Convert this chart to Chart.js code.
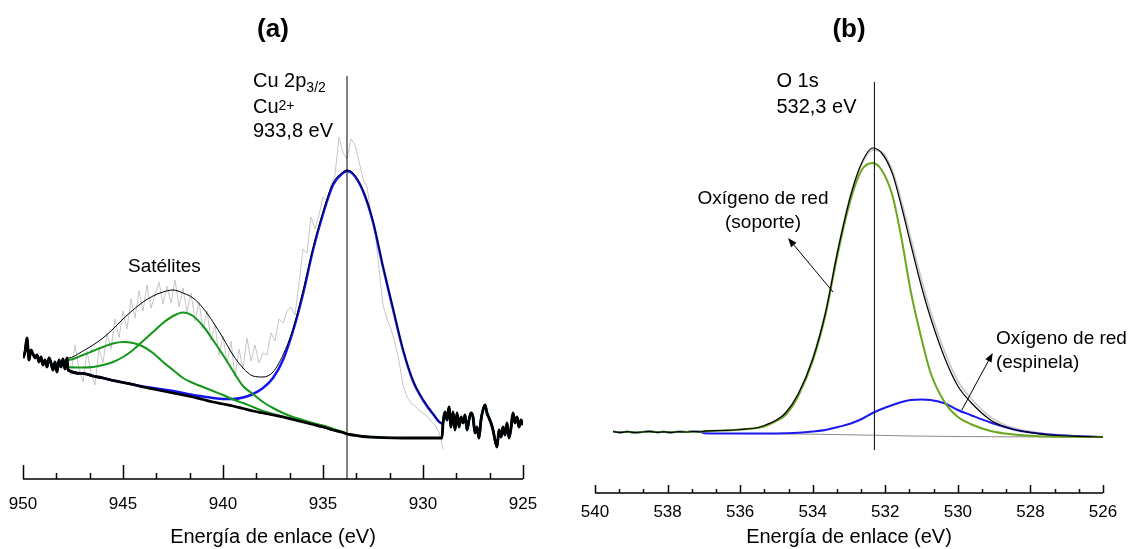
<!DOCTYPE html>
<html lang="es">
<head>
<meta charset="utf-8">
<title>XPS Cu 2p y O 1s</title>
<script src="https://cdn.jsdelivr.net/npm/chart.js@4.4.1/dist/chart.umd.min.js"></script>
<style>
  html, body { margin: 0; padding: 0; background: #fff; }
  #wrap { position: relative; width: 1128px; height: 549px; }
  .panel { position: absolute; top: 0; width: 564px; height: 549px; }
  #panelA { left: 0; }
  #panelB { left: 564px; }
</style>
</head>
<body>
<div id="wrap">
  <div class="panel" id="panelA"><canvas id="chartA"></canvas></div>
  <div class="panel" id="panelB"><canvas id="chartB"></canvas></div>
</div>
<script>
const FONT = '"Liberation Sans", Arial, sans-serif';

// ---- (a) Cu 2p3/2 ----
const cuPeak = 933.8;

// raw counts outside the fitted window, [eV, intensity]
const edgeLeftA = [[950.0,121],[949.9,127],[949.8,141],[949.7,119],[949.6,129],[949.5,125],[949.4,121],[949.3,124],[949.2,117],[949.1,122],[949.0,114],[948.9,119],[948.8,112],[948.7,121],[948.6,116],[948.5,109],[948.4,117],[948.3,107],[948.2,119],[948.1,112],[948.0,120],[947.9,110],[947.8,121]];
const edgeRightA = [[929.0,56],[928.9,67],[928.8,59],[928.7,72],[928.6,52],[928.5,67],[928.4,49],[928.3,66],[928.2,52],[928.1,62],[928.0,56],[927.9,64],[927.8,49],[927.7,59],[927.6,66],[927.5,62],[927.4,46],[927.3,52],[927.2,41],[927.1,59],[927.0,69],[926.9,74],[926.8,66],[926.7,61],[926.6,56],[926.5,49],[926.4,39],[926.3,32],[926.2,49],[926.1,42],[926.0,52],[925.9,44],[925.8,56],[925.7,41],[925.6,51],[925.5,66],[925.4,56],[925.3,62],[925.2,52],[925.1,59],[925.0,54]];

// raw counts inside the fitted window
const rawA = [[947.8,121],[947.6,104],[947.4,134],[947.2,110],[947.0,97],[946.8,128],[946.6,106],[946.4,94],[946.2,130],[946.0,116],[945.8,146],[945.6,130],[945.4,160],[945.2,141],[945.0,168],[944.8,150],[944.6,180],[944.4,161],[944.2,188],[944.0,168],[943.8,194],[943.6,171],[943.4,184],[943.2,197],[943.0,175],[942.8,193],[942.6,176],[942.4,199],[942.2,172],[942.0,191],[941.8,167],[941.6,186],[941.4,158],[941.2,177],[941.0,150],[940.8,168],[940.6,138],[940.4,154],[940.2,124],[940.0,143],[939.8,116],[939.6,138],[939.4,102],[939.2,130],[939.0,110],[938.8,141],[938.6,118],[938.4,134],[938.2,116],[938.0,126],[937.8,124],[937.6,146],[937.4,138],[937.2,160],[937.0,156],[936.8,168],[936.6,172],[936.4,164],[936.2,196],[936.0,230],[935.8,226],[935.6,262],[935.4,250],[935.2,264],[935.0,282],[934.8,278],[934.6,294],[934.4,304],[934.2,342],[934.0,326],[933.8,320],[933.6,340],[933.4,334],[933.2,318],[933.0,300],[932.8,292],[932.6,266],[932.4,248],[932.2,210],[932.0,174],[931.8,160],[931.6,150],[931.4,136],[931.2,118],[931.0,94],[930.8,82],[930.6,76],[930.4,73],[930.2,69],[930.0,66],[929.8,63],[929.6,58],[929.4,54],[929.2,47],[929.0,30]];

// fit grid and components
const fitEA = [947.75, 947.0, 946.5, 946.0, 945.5, 945.0, 944.5, 944.0, 943.5, 943.0, 942.5, 942.0, 941.5, 941.0, 940.5, 940.0, 939.5, 939.0, 938.5, 938.0, 937.5, 937.0, 936.5, 936.0, 935.5, 935.0, 934.5, 934.0, 933.8, 933.5, 933.0, 932.5, 932.0, 931.5, 931.0, 930.5, 930.0, 929.5, 929.05];
const bgA   = [109, 105.5, 103, 101, 98.5, 96.5, 94.5, 92, 90, 88, 86, 84, 82, 79.5, 77, 75, 73, 70.5, 68, 66, 64, 62, 59.5, 57, 54.5, 52, 49, 46.5, 45, 44, 42.5, 41.8, 41.3, 41.1, 41, 41, 41, 41, 41];
const cuA   = [109, 105.5, 103, 101, 98.5, 96.5, 94.5, 92.5, 91, 89.5, 88, 86, 84, 82.5, 81, 80, 80, 81.5, 85, 91, 101, 119, 148, 185, 229, 265, 294, 306, 308, 305, 288, 257, 212, 170, 129, 98, 79, 65, 55.5];
const satA1 = [119, 124, 128, 132, 135.5, 137, 136, 132.5, 126, 117, 109, 101, 96, 92, 88, 84, 79.5, 76, 72, 68, 65, 62.5, 60, 57.5, 55, 52.3, 49.2, 46.6, 45.1, 44.1, 42.5, 41.8, 41.3, 41.1, 41, 41, 41, 41, 41];
const satA2 = [112, 111.5, 112, 114, 117, 122, 129, 138, 147, 156, 163, 166.5, 163, 153, 139, 124, 108, 93, 85, 77, 71, 66, 62, 59, 56, 53.5, 50.2, 47, 45.4, 44.2, 42.6, 41.8, 41.3, 41.1, 41, 41, 41, 41, 41];
const envA  = [121, 128, 134, 141, 150, 160, 169, 177, 183, 187, 189, 186, 181, 171, 157, 141, 124, 111, 103, 102, 107, 124, 150, 188, 231, 267, 296, 307, 309, 306, 289, 258, 213, 171, 130, 98.5, 79.5, 65.3, 55.7];

// ---- (b) O 1s ----
const oPeak = 532.3;

const edgeLeftB = [[539.5,61.5],[539.3,60.6],[539.1,61.3],[538.9,60.4],[538.7,61],[538.5,61.6],[538.3,60.7],[538.1,61.2],[537.9,60.5],[537.7,61.3],[537.5,61],[537.3,61.5],[537.1,61.2]];
const fitEB = [537.0, 536.5, 536.0, 535.5, 535.3, 535.0, 534.75, 534.4, 534.0, 533.65, 533.3, 532.95, 532.65, 532.35, 532.1, 531.8, 531.55, 531.3, 531.0, 530.75, 530.35, 530.0, 529.65, 529.1, 528.7, 528.4, 528.0, 527.5, 526.8, 526.0];
const envB     = [61.8, 62.5, 63.5, 65.5, 68, 73, 80, 99, 134, 180, 244, 298, 330, 345, 340, 319, 286, 249, 206, 175, 134, 107, 91, 73, 66, 63, 60.5, 58, 56.8, 56];
const latticeB = [61.8, 62.5, 63.5, 65.3, 67, 72, 78, 97, 132, 178, 241, 294, 323, 330, 323, 297, 254, 202, 154, 120, 90, 76, 69, 62, 59.5, 58.3, 57.3, 56.6, 56.2, 56];
const spinelB  = [59.8, 59.6, 59.5, 59.5, 59.5, 59.6, 59.8, 60.3, 61.5, 63, 66, 69.5, 74, 80, 84, 88, 91, 93, 93.5, 93, 89.5, 83, 78, 70.5, 66, 63, 60.5, 58.5, 57, 56];
const rawB     = [61.5, 62.3, 63.2, 65.4, 67.5, 72.5, 80, 99, 135, 181, 245, 299, 329, 343, 341, 322, 291, 255, 213, 181, 140, 112, 95, 76, 68, 64.5, 61.5, 58.8, 57.2, 56.3];
const bgB      = [59.6, 59.5, 59.4, 59.3, 59.3, 59.2, 59.1, 59, 58.8, 58.6, 58.4, 58.2, 58, 57.8, 57.6, 57.4, 57.2, 57, 56.9, 56.8, 56.6, 56.5, 56.4, 56.3, 56.2, 56.2, 56.1, 56.1, 56, 56];

const evText = (v) => v.toFixed(1).replace(".", ",") + " eV";

const pairs = (list) => list.map(([x, y]) => ({ x, y }));
const onGrid = (grid, vals) => grid.map((x, k) => ({ x, y: vals[k] }));
const traceA = (vals) => [...pairs(edgeLeftA), ...onGrid(fitEA, vals), ...pairs(edgeRightA)];
const traceB = (vals) => [...pairs(edgeLeftB), ...onGrid(fitEB, vals)];

Chart.defaults.font.family = FONT;
Chart.defaults.color = "#000";

// axis line with ticks pointing up into the plot
const axisTicks = {
	id: "axisTicks",
	afterDatasetsDraw(chart, args, opts) {
		const { ctx, chartArea: a, scales: { x } } = chart;
		const step = opts.major / (opts.minor + 1);
		const count = Math.round((x.max - x.min) / step);
		ctx.save();
		ctx.strokeStyle = "#000";
		ctx.lineWidth = 1.5;
		ctx.beginPath();
		ctx.moveTo(a.left, a.bottom);
		ctx.lineTo(a.right, a.bottom);
		for (let k = 0; k <= count; k++) {
			const px = Math.round(x.getPixelForValue(x.min + k * step)) + 0.5;
			const len = k % (opts.minor + 1) === 0 ? opts.majorLen : opts.minorLen;
			ctx.moveTo(px, a.bottom);
			ctx.lineTo(px, a.bottom - len);
		}
		ctx.stroke();
		ctx.restore();
	},
};

// peak labels and arrows, placed in data coordinates
const notes = {
	id: "notes",
	afterDatasetsDraw(chart, args, opts) {
		const { ctx, scales: { x, y } } = chart;
		ctx.save();
		ctx.fillStyle = "#000";
		ctx.strokeStyle = "#000";
		ctx.lineWidth = 1;
		for (const a of opts.arrows || []) {
			const x0 = x.getPixelForValue(a.from[0]), y0 = y.getPixelForValue(a.from[1]);
			const x1 = x.getPixelForValue(a.to[0]), y1 = y.getPixelForValue(a.to[1]);
			const ang = Math.atan2(y1 - y0, x1 - x0);
			const head = 9, half = 3.5;
			const bx = x1 - head * Math.cos(ang), by = y1 - head * Math.sin(ang);
			ctx.beginPath();
			ctx.moveTo(x0, y0);
			ctx.lineTo(bx, by);
			ctx.stroke();
			ctx.beginPath();
			ctx.moveTo(x1, y1);
			ctx.lineTo(bx + half * Math.sin(ang), by - half * Math.cos(ang));
			ctx.lineTo(bx - half * Math.sin(ang), by + half * Math.cos(ang));
			ctx.closePath();
			ctx.fill();
		}
		ctx.textBaseline = "alphabetic";
		for (const l of opts.labels || []) {
			const size = l.size || 20;
			const pieces = l.parts.map(([text, kind]) => {
				const s = kind ? 14 : size;
				ctx.font = `${s}px ${FONT}`;
				return { text, kind, s, w: ctx.measureText(text).width };
			});
			const total = pieces.reduce((t, p) => t + p.w, 0);
			let px = x.getPixelForValue(l.x);
			if (l.align === "center") px -= total / 2;
			const py = y.getPixelForValue(l.y);
			for (const p of pieces) {
				ctx.font = `${p.s}px ${FONT}`;
				const dy = p.kind === "sub" ? 5 : p.kind === "sup" ? -3.5 : 0;
				ctx.fillText(p.text, px, py + dy);
				px += p.w;
			}
		}
		ctx.restore();
	},
};

function line(data, color, width, smooth = true) {
	return {
		data,
		borderColor: color,
		borderWidth: width,
		pointRadius: 0,
		fill: false,
		borderJoin: "round",
		cubicInterpolationMode: smooth ? "monotone" : "default",
		tension: 0,
	};
}

function baseOptions(cfg) {
	return {
		responsive: true,
		maintainAspectRatio: false,
		animation: false,
		events: [],
		layout: { padding: cfg.padding },
		plugins: {
			legend: { display: false },
			tooltip: { enabled: false },
			title: {
				display: true,
				text: cfg.title,
				color: "#000",
				font: { size: 26, weight: "bold" },
				padding: { top: 14.4, bottom: 14.4 },
			},
			axisTicks: cfg.ticks,
			notes: cfg.notes,
		},
		scales: {
			x: {
				type: "linear",
				reverse: true,
				min: cfg.xMin,
				max: cfg.xMax,
				afterFit(s) {
					// fixed axis band; edge labels fit inside the layout padding
					s.height = cfg.axisHeight;
					s.paddingLeft = 0;
					s.paddingRight = 0;
				},
				grid: { display: false, drawTicks: false },
				border: { display: false },
				ticks: { stepSize: cfg.step, padding: cfg.tickPad, font: { size: 17 }, color: "#000", maxRotation: 0, autoSkip: false },
				title: { display: true, text: "Energía de enlace (eV)", color: "#000", font: { size: 20 }, padding: { top: 0, bottom: 0 } },
			},
			y: { display: false, min: 0, max: cfg.yMax },
		},
	};
}

new Chart(document.getElementById("chartA"), {
	type: "line",
	data: {
		datasets: [
			line([{ x: cuPeak, y: 0 }, { x: cuPeak, y: 403 }], "#000", 1, false),
			line(traceA(envA), "#000", 1),
			line(traceA(bgA), "#000", 2.8),
			line(traceA(satA1), "#14961a", 2),
			line(traceA(satA2), "#14961a", 2),
			line(traceA(cuA), "#1414f0", 2.5),
			line(pairs(rawA), "#c6c6c6", 1, false),
		],
	},
	options: baseOptions({
		title: "(a)",
		padding: { left: 23, right: 41, top: 0, bottom: 0 },
		xMin: 925, xMax: 950, step: 5, yMax: 419,
		axisHeight: 70, tickPad: 15,
		ticks: { major: 5, minor: 2, majorLen: 14, minorLen: 6 },
		notes: {
			labels: [
				{ x: 938.5, y: 392, parts: [["Cu 2p"], ["3/2", "sub"]] },
				{ x: 938.5, y: 366, parts: [["Cu"], ["2+", "sup"]] },
				{ x: 938.5, y: 342, parts: [[evText(cuPeak)]] },
				{ x: 944.75, y: 207, size: 19, parts: [["Satélites"]] },
			],
		},
	}),
	plugins: [axisTicks, notes],
});

new Chart(document.getElementById("chartB"), {
	type: "line",
	data: {
		datasets: [
			line([{ x: oPeak, y: 43 }, { x: oPeak, y: 411 }], "#000", 1, false),
			line(traceB(envB), "#000", 1.2),
			line(traceB(latticeB), "#6aa61e", 2),
			line(traceB(spinelB), "#1a1af0", 2),
			line(onGrid(fitEB, rawB), "#c8c8c8", 1.8),
			line(onGrid(fitEB, bgB), "#8a8a8a", 1),
		],
	},
	options: baseOptions({
		title: "(b)",
		padding: { left: 31, right: 25, top: 0, bottom: 0 },
		xMin: 526, xMax: 540, step: 2, yMax: 433,
		axisHeight: 56, tickPad: 9,
		ticks: { major: 2, minor: 2, majorLen: 8, minorLen: 4 },
		notes: {
			arrows: [
				{ from: [533.44, 201], to: [534.68, 255] },
				{ from: [529.89, 83], to: [529.04, 140] },
			],
			labels: [
				{ x: 535.0, y: 406, parts: [["O 1s"]] },
				{ x: 535.0, y: 380, parts: [[evText(oPeak)]] },
				{ x: 535.37, y: 289, size: 19, align: "center", parts: [["Oxígeno de red"]] },
				{ x: 535.37, y: 265, size: 19, align: "center", parts: [["(soporte)"]] },
				{ x: 528.95, y: 149, size: 19, parts: [["Oxígeno de red"]] },
				{ x: 528.95, y: 125, size: 19, parts: [["(espinela)"]] },
			],
		},
	}),
	plugins: [axisTicks, notes],
});
</script>
</body>
</html>
